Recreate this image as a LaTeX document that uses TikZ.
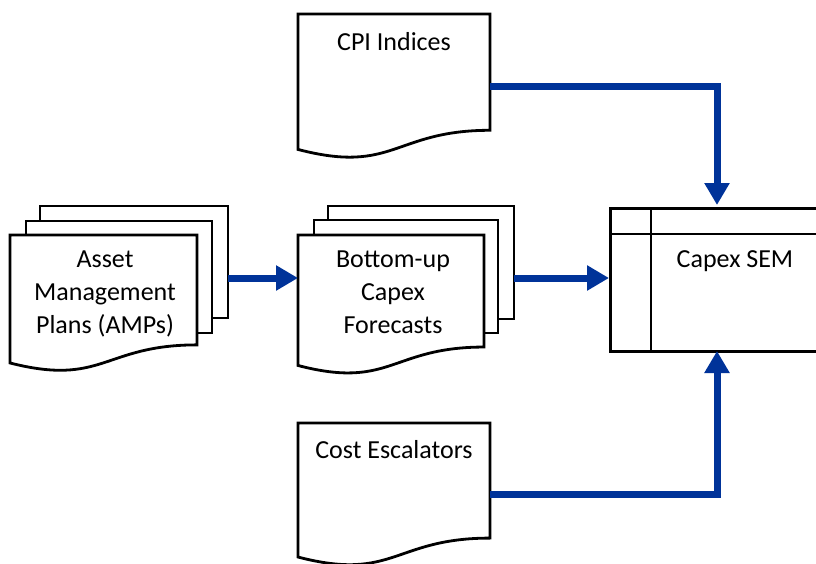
\documentclass[tikz,border=0pt]{standalone}
\usepackage{fontspec}
\setmainfont{Carlito}
\usetikzlibrary{arrows.meta}
\definecolor{flowblue}{RGB}{0,51,153}
\newcommand{\docshape}[4]{%
  \draw[docline] ({#1},{#2}) -- ({#1+#3},{#2}) -- ({#1+#3},{#2+0.802*#4})
    .. controls ({#1+#3/2},{#2+0.802*#4}) and ({#1+#3/2},{#2+1.1075*#4}) .. ({#1},{#2+0.934*#4}) -- cycle;}
\newcommand{\pagerect}[4]{%
  \draw[docline] (#1,#2) rectangle (#3,#4);}
\tikzset{
  docline/.style={draw=black, line width=2.8pt, fill=white, line join=miter},
  flow/.style={draw=flowblue, line width=7pt, -{Triangle[length=22pt,width=24pt]}},
  lbl/.style={anchor=base, inner sep=0pt, font=\fontsize{26}{33}\selectfont},
}
\begin{document}
\begin{tikzpicture}[x=1pt,y=-1pt]
\useasboundingbox (0,0) rectangle (816,563);
% Asset Management Plans stack
\pagerect{40}{206}{228}{318}
\pagerect{26}{221}{212}{333}
\docshape{10}{235}{187}{137}
% Bottom-up stack
\pagerect{328}{206}{514}{319}
\pagerect{314}{220}{498}{333}
\docshape{298}{235}{186}{139.7}
% CPI Indices
\docshape{298}{14}{192}{145}
% Cost Escalators
\docshape{298}{423}{192}{143.5}
% Capex SEM
\node[draw, line width=2.8pt, minimum width=221pt, minimum height=143pt, anchor=north west, inner sep=0pt] (sem) at (609,207) {};
\draw[line width=2.8pt] (651,207) -- (651,350);
\draw[line width=2.8pt] (609,234) -- (830,234);
% labels
\node[lbl] (ampT) at (105,267) {\begin{tabular}[t]{@{}c@{}}Asset\\Management\\Plans (AMPs)\end{tabular}};
\node[lbl] (buT) at (393,267) {\begin{tabular}[t]{@{}c@{}}Bottom-up\\Capex\\Forecasts\end{tabular}};
\node[lbl] (cpiT) at (394,50) {CPI Indices};
\node[lbl] (costT) at (394,458) {Cost Escalators};
\node[lbl] (semT) at (735,267) {Capex SEM};
% connector ends
\coordinate (ampOut) at (228,278);
\coordinate (buIn) at (298,278);
\coordinate (buOut) at (514,278);
\coordinate (semW) at (609,278);
\coordinate (cpiOut) at (490,86);
\coordinate (semN) at (717,205);
\coordinate (costOut) at (490,494);
\coordinate (semS) at (717,351);
% connectors
\draw[flow] (ampOut) -- (buIn);
\draw[flow] (buOut) -- (semW);
\draw[flow] (cpiOut) -| (semN);
\draw[flow] (costOut) -| (semS);
\end{tikzpicture}
\end{document}
